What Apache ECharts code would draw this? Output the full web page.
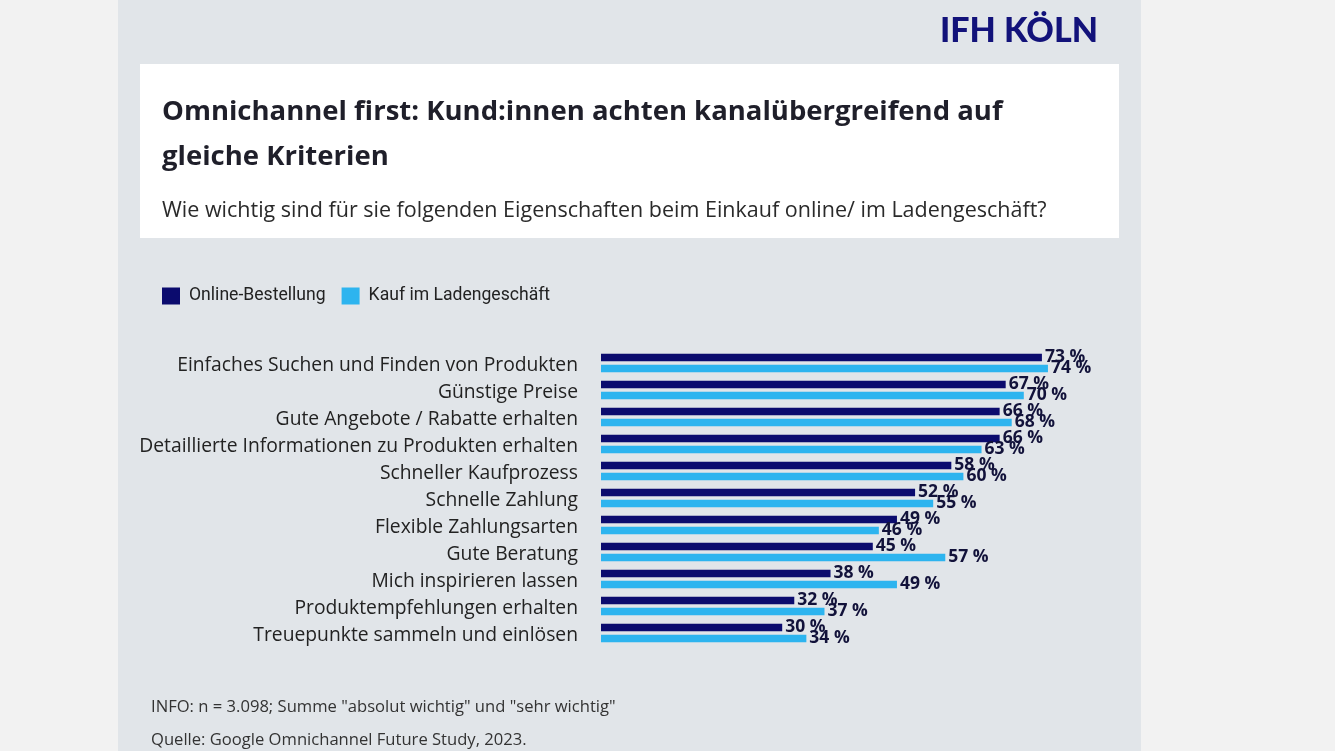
<!DOCTYPE html>
<html>
<head>
<meta charset="utf-8">
<title>Omnichannel first</title>
<script src="https://cdn.jsdelivr.net/npm/echarts@6/dist/echarts.min.js"></script>
<style>
  html, body { margin: 0; padding: 0; background: #f2f2f2; }
  #chart { width: 1335px; height: 751px; }
</style>
</head>
<body>
<div id="chart"></div>
<script>
var kategorien = [
    'Einfaches Suchen und Finden von Produkten',
    'Günstige Preise',
    'Gute Angebote / Rabatte erhalten',
    'Detaillierte Informationen zu Produkten erhalten',
    'Schneller Kaufprozess',
    'Schnelle Zahlung',
    'Flexible Zahlungsarten',
    'Gute Beratung',
    'Mich inspirieren lassen',
    'Produktempfehlungen erhalten',
    'Treuepunkte sammeln und einlösen'
];
var online = [73, 67, 66, 66, 58, 52, 49, 45, 38, 32, 30];
var laden = [74, 70, 68, 63, 60, 55, 46, 57, 49, 37, 34];

var labelStyle = {
    show: true,
    position: 'right',
    distance: 3,
    formatter: '{c} %',
    color: '#12123a',
    fontFamily: 'Open Sans',
    fontWeight: 'bold',
    fontSize: 17.5
};

var option = {
    backgroundColor: '#f2f2f2',
    animation: false,
    graphic: [
        { type: 'rect', z: -10, shape: { x: 118, y: 0, width: 1023, height: 751 }, style: { fill: '#e1e5e9' } },
        { type: 'rect', z: -9, shape: { x: 140, y: 64, width: 979, height: 174 }, style: { fill: '#ffffff' } },
        { type: 'text', left: 940, top: 14, style: { text: 'IFH KÖLN', fill: '#12127a', font: '900 34px Lato' } },
        { type: 'text', left: 162, top: 98, style: { text: 'Omnichannel first: Kund:innen achten kanalübergreifend auf', fill: '#1f1f2a', font: 'bold 27.5px "Open Sans"' } },
        { type: 'text', left: 162, top: 143, style: { text: 'gleiche Kriterien', fill: '#1f1f2a', font: 'bold 27.5px "Open Sans"' } },
        { type: 'text', left: 162, top: 200, style: { text: 'Wie wichtig sind für sie folgenden Eigenschaften beim Einkauf online/ im Ladengeschäft?', fill: '#2a2a2a', font: '21.5px "Open Sans"' } },
        { type: 'text', left: 151, top: 699, style: { text: 'INFO: n = 3.098; Summe "absolut wichtig" und "sehr wichtig"', fill: '#333333', font: '16.6px "Open Sans"' } },
        { type: 'text', left: 151, top: 732, style: { text: 'Quelle: Google Omnichannel Future Study, 2023.', fill: '#333333', font: '16.6px "Open Sans"' } }
    ],
    legend: {
        left: 157,
        top: 282,
        itemWidth: 18,
        itemHeight: 17,
        itemGap: 16,
        icon: 'rect',
        textStyle: { fontFamily: 'Roboto', fontSize: 17.6, color: '#222222', padding: [0, 0, 0, 4] },
        data: ['Online-Bestellung', 'Kauf im Ladengeschäft']
    },
    grid: {
        left: 601,
        top: 349.5,
        width: 604,
        height: 297
    },
    xAxis: {
        type: 'value',
        min: 0,
        max: 100,
        show: false
    },
    yAxis: {
        type: 'category',
        inverse: true,
        data: kategorien,
        axisLine: { show: false },
        axisTick: { show: false },
        splitLine: { show: false },
        axisLabel: {
            margin: 23,
            formatter: function (value) {
                return '{k|' + value + '}';
            },
            rich: {
                k: {
                    color: '#222222',
                    fontFamily: 'Open Sans',
                    fontSize: 19.3,
                    padding: [6, 0, 0, 0]
                }
            }
        }
    },
    series: [
        {
            name: 'Online-Bestellung',
            type: 'bar',
            data: online,
            barWidth: 7.5,
            barGap: '47%',
            itemStyle: { color: '#0b0b6e' },
            label: labelStyle
        },
        {
            name: 'Kauf im Ladengeschäft',
            type: 'bar',
            data: laden,
            barWidth: 7.5,
            itemStyle: { color: '#2db4ef' },
            label: labelStyle
        }
    ]
};

var myChart = echarts.init(document.getElementById('chart'));
myChart.setOption(option);
</script>
</body>
</html>
